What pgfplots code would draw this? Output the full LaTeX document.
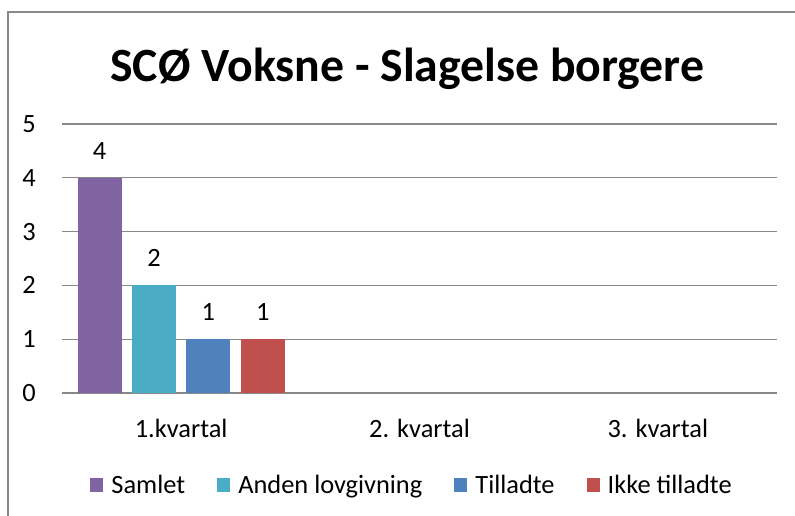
\documentclass[border=0pt]{standalone}
\usepackage{fontspec}
\setmainfont{Carlito}
\usepackage{pgfplots}
\pgfplotsset{compat=1.18}
\definecolor{samlet}{HTML}{8064A2}
\definecolor{anden}{HTML}{4BACC6}
\definecolor{tilladte}{HTML}{4F81BD}
\definecolor{ikke}{HTML}{C0504D}
\definecolor{gridgray}{HTML}{888888}
\newcommand{\lbl}{\fontsize{19.8}{23}\selectfont}
\pgfplotsset{
  sq legend/.style={legend image code/.code={\fill[##1,draw=none] (0pt,-4.9pt) rectangle (9.8pt,4.9pt);}}
}
\begin{document}
\begin{tikzpicture}
\useasboundingbox (0pt,0pt) rectangle (596.25pt,386.25pt);
\draw[gridgray,line width=0.9pt] (597pt,377.25pt) -- (6pt,377.25pt) -- (6pt,-1pt);
\node[font=\bfseries\fontsize{35.8}{40}\selectfont,anchor=base] at (305.5pt,324.75pt) {SCØ Voksne - Slagelse borgere};
\begin{axis}[
  at={(46.5pt,91.5pt)},anchor=south west,
  scale only axis,width=536.25pt,height=201.75pt,
  xmin=-0.5,xmax=2.5,ymin=0,ymax=5,
  ytick={0,1,2,3,4,5},
  xtick={0,1,2},
  xticklabels={1.kvartal,2. kvartal,3. kvartal},
  axis line style={draw=none},
  major tick length=0pt,
  ymajorgrids=true,
  grid style={gridgray,line width=0.9pt},
  /pgf/number format/assume math mode=true,
  tick label style={font=\lbl},
  yticklabel style={anchor=east,inner sep=0pt,xshift=-19.5pt},
  xticklabel style={anchor=base,inner sep=0pt,yshift=-33pt},
  ybar=7.8pt,bar width=33pt,
  nodes near coords,
  every node near coord/.append style={font=\lbl,anchor=base,inner sep=0pt,yshift=13.9pt,text=black},
  legend columns=4,
  legend style={draw=none,fill=none,font=\lbl,at={(0.490,-0.342)},anchor=center,
    /tikz/every odd column/.append style={column sep=4pt},
    /tikz/every even column/.append style={column sep=22pt}},
]
\addplot[fill=samlet,draw=none,sq legend] coordinates {(0,4)};
\addlegendentry{Samlet}
\addplot[fill=anden,draw=none,sq legend] coordinates {(0,2)};
\addlegendentry{Anden lovgivning}
\addplot[fill=tilladte,draw=none,sq legend] coordinates {(0,1)};
\addlegendentry{Tilladte}
\addplot[fill=ikke,draw=none,sq legend] coordinates {(0,1)};
\addlegendentry{Ikke tilladte}
\end{axis}
\end{tikzpicture}
\end{document}
